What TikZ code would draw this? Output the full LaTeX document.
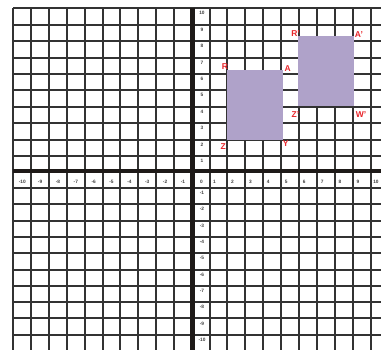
\documentclass[tikz,border=0pt]{standalone}
\usepackage{fontspec}
\setmainfont{Liberation Sans}
\definecolor{gridc}{HTML}{333333}
\definecolor{axisc}{HTML}{1E1A18}
\definecolor{shapec}{HTML}{AFA2C9}
\definecolor{labc}{HTML}{E8262B}
\begin{document}
\begin{tikzpicture}[x=1pt,y=-1pt,
  gridline/.style={draw=gridc,line width=1.6pt},
  axisline/.style={draw=axisc},
  ticklab/.style={font=\fontsize{4.8}{4.8}\selectfont\bfseries,text=black!75,inner sep=0pt},
  ptlab/.style={font=\fontsize{8.5}{8.5}\selectfont\bfseries,text=labc,inner sep=0pt},
  sq/.style={fill=shapec,draw=none}]
\useasboundingbox (0,0) rectangle (381,350);
\fill[white] (0,0) rectangle (381,350);
% vertical grid lines
\foreach \i in {0,...,9}{
  \pgfmathsetmacro{\xa}{round(13.3+17.86*\i)}
  \pgfmathsetmacro{\xb}{round(209.5+17.94*\i)}
  \draw[gridline] (\xa,8) -- (\xa,350);
  \draw[gridline] (\xb,8) -- (\xb,350);
}
% horizontal grid lines
\foreach \i in {0,...,9}{
  \pgfmathsetmacro{\ya}{round(8.3+16.41*\i)}
  \pgfmathsetmacro{\yb}{round(188+16.3*\i)}
  \draw[gridline] (13,\ya) -- (381,\ya);
  \draw[gridline] (13,\yb) -- (381,\yb);
}
% axes
\draw[axisline,line width=5pt] (192.5,8) -- (192.5,350);
\draw[axisline,line width=4pt] (13,171.3) -- (381,171.3);
% tick labels x
\foreach \n in {1,...,10}{
  \node[ticklab] (xm\n) at ({13.3+17.86*(10-\n)+8.93},181.5) {-\n};
  \node[ticklab] (xp\n) at ({209.5+17.94*(\n-1)+5},181.5) {\n};
}
\node[ticklab] (x0) at (201.5,181.5) {0};
% tick labels y
\foreach \n in {1,...,10}{
  \node[ticklab] (yp\n) at (202,{8.3+16.41*(10-\n)+5}) {\n};
  \node[ticklab] (ym\n) at (202,{188+16.3*(\n-1)+5}) {-\n};
}
% squares
\path[sq] (226.7,70) rectangle (283,140);
\path[sq] (297.7,36.3) rectangle (354,106.3);
% point labels
\node[ptlab] (R) at (225,66.5) {R};
\node[ptlab] (A) at (287.7,68.3) {A};
\node[ptlab] (Z) at (223.3,146.5) {Z};
\node[ptlab] (Y) at (285.7,143.3) {Y};
\node[ptlab] (Rp) at (295.5,33.3) {R'};
\node[ptlab] (Ap) at (359,34.5) {A'};
\node[ptlab] (Zp) at (295.5,115) {Z'};
\node[ptlab] (Wp) at (361,114.3) {W'};
\end{tikzpicture}
\end{document}
